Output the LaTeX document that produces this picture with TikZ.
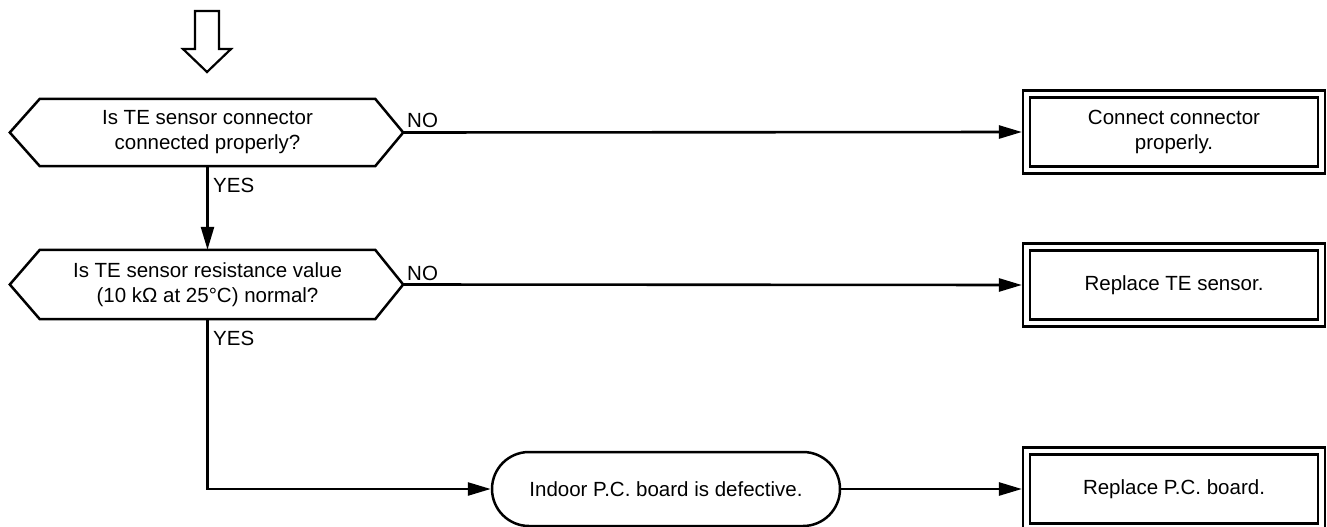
\documentclass[tikz,border=0pt]{standalone}
\usepackage{fontspec}
\setmainfont{Liberation Sans}
\usetikzlibrary{arrows.meta}
\begin{document}
\begin{tikzpicture}[x=1pt,y=-1pt,
  every node/.style={font=\fontsize{20.5}{25}\selectfont},
  conn/.style={line width=2.6pt,-{Triangle[length=23pt,width=13pt]}},
  quest/.style={minimum width=335pt, inner sep=0pt, align=center},
  hexline/.style={line width=2.5pt, line join=miter},
  finbox/.style={draw, double, double distance=4.2pt, line width=2.5pt,
    minimum width=295pt, minimum height=76pt, align=center, outer sep=4.6pt},
  term/.style={draw, line width=2.5pt, rounded corners=37pt,
    minimum width=348pt, minimum height=74pt},
  lbl/.style={inner sep=0pt, anchor=base west}]
\useasboundingbox (0,0) rectangle (1327,527);

% entry hollow arrow
\draw[line width=2.2pt, line join=miter] (195,11) -- (219,11) -- (219,49) -- (231,49)
  -- (207,72) -- (183,49) -- (195,49) -- cycle;

% question 1
\node[quest, minimum height=67pt] (q1) at (207.5,132.5)
  {Is TE sensor connector\\connected properly?};
\coordinate (q1r) at ([xshift=28pt]q1.east);
\coordinate (q1l) at ([xshift=-30pt]q1.west);
\draw[hexline] (q1.north west) -- (q1.north east) -- (q1r) -- (q1.south east)
  -- (q1.south west) -- (q1l) -- cycle;

% question 2
\node[quest, minimum height=69pt] (q2) at (207.5,284.5)
  {Is TE sensor resistance value\\(10 kΩ at 25°C) normal?};
\coordinate (q2r) at ([xshift=28pt]q2.east);
\coordinate (q2l) at ([xshift=-30pt]q2.west);
\draw[hexline] (q2.north west) -- (q2.north east) -- (q2r) -- (q2.south east)
  -- (q2.south west) -- (q2l) -- cycle;

% result boxes
\node[finbox] (f1) at (1174,132) {Connect connector\\properly.};
\node[finbox] (f2) at (1174,285) {Replace TE sensor.};
\node[finbox] (f3) at (1174,489) {Replace P.C. board.};

% terminal
\node[term] (t) at (666,489) {Indoor P.C. board is defective.};

% connectors
\draw[conn] (q1.south) -- (q2.north);
\draw[conn] (q1r) -- (f1.west);
\draw[conn] (q2r) -- (f2.west);
\draw[conn] (q2.south) |- (t.west);
\draw[conn] (t.east) -- (f3.west);

% labels
\node[lbl] (no1) at (407,127) {NO};
\node[lbl] (no2) at (407,280) {NO};
\node[lbl] (yes1) at (213,192) {YES};
\node[lbl] (yes2) at (213,345) {YES};
\end{tikzpicture}
\end{document}
